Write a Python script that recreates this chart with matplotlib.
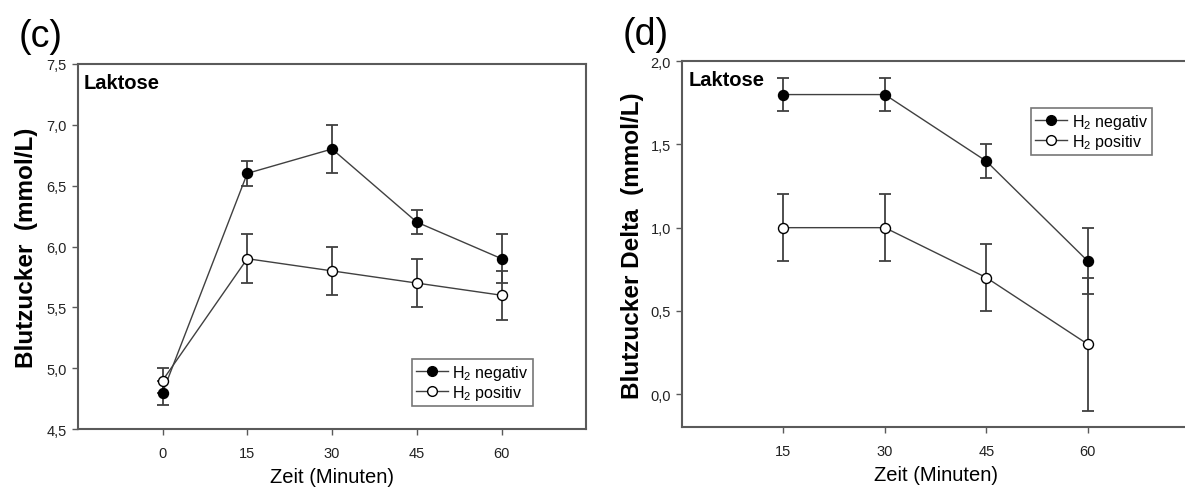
import matplotlib
matplotlib.use('Agg')
import matplotlib.pyplot as plt
from matplotlib.lines import Line2D

plt.rcParams['font.family'] = ['Liberation Sans', 'DejaVu Sans']
plt.rcParams['mathtext.fontset'] = 'custom'
plt.rcParams['mathtext.rm'] = 'Liberation Sans'

# DATA ---------------------------------------------------------------------------------------
# panel (c): blood sugar after lactose
time_c = [0, 15, 30, 45, 60]
neg_c = [4.8, 6.6, 6.8, 6.2, 5.9]
neg_c_err = [0.1, 0.1, 0.2, 0.1, 0.2]
pos_c = [4.9, 5.9, 5.8, 5.7, 5.6]
pos_c_err = [0.1, 0.2, 0.2, 0.2, 0.2]
yticks_c = [4.5, 5.0, 5.5, 6.0, 6.5, 7.0, 7.5]

# panel (d): blood sugar delta
time_d = [15, 30, 45, 60]
neg_d = [1.8, 1.8, 1.4, 0.8]
neg_d_err = [0.1, 0.1, 0.1, 0.2]
pos_d = [1.0, 1.0, 0.7, 0.3]
pos_d_err = [0.2, 0.2, 0.2, 0.4]
yticks_d = [0.0, 0.5, 1.0, 1.5, 2.0]

LABELS = ['H$_\\mathregular{2}$ negativ', 'H$_\\mathregular{2}$ positiv']
LINE_COLOR = '#404040'
SPINE_COLOR = '#5a5a5a'
TEXT_COLOR = '#222222'

fig = plt.figure(figsize=(11.85, 4.89), dpi=100)


def draw_series(ax, x, y, err, face):
    ax.errorbar(x, y, yerr=err, fmt='none', ecolor=LINE_COLOR, elinewidth=1.3,
                capsize=4.5, capthick=1.3, zorder=2)
    ax.plot(x, y, '-', color=LINE_COLOR, lw=1.0, marker='o', markersize=7.2,
            markerfacecolor=face, markeredgecolor='black', markeredgewidth=1.0, zorder=3)


def style_axes(ax, yticks):
    for side in ['top', 'bottom', 'left', 'right']:
        ax.spines[side].set_color(SPINE_COLOR)
        ax.spines[side].set_linewidth(1.5)
    ax.set_yticks(yticks)
    ax.set_yticklabels([('%.1f' % v).replace('.', ',') for v in yticks])
    ax.tick_params(axis='both', direction='out', length=4, width=1.0, color=SPINE_COLOR,
                   labelsize=10.5, labelcolor=TEXT_COLOR, pad=4)
    ax.tick_params(axis='x', pad=8)
    ax.text(0.012, 0.975, 'Laktose', transform=ax.transAxes, ha='left', va='top',
            fontsize=14.5, fontweight='bold', color='black')


def add_legend(ax, x_px, y_px):
    handles = [Line2D([0], [0], color=LINE_COLOR, lw=1.0, marker='o', markersize=7,
                      markerfacecolor=f, markeredgecolor='black') for f in ['black', 'white']]
    leg = ax.legend(handles, LABELS, loc='upper left',
                    bbox_to_anchor=(x_px / 1185, 1 - y_px / 489), bbox_transform=fig.transFigure,
                    borderaxespad=0, fontsize=11.5, fancybox=False, framealpha=1,
                    edgecolor='#777777', handlelength=2.0, handletextpad=0.3,
                    labelspacing=0.05, borderpad=0.25)
    leg.get_frame().set_linewidth(1.2)


# panel (c)
ax1 = fig.add_axes([0.0656, 0.120, 0.4292, 0.7477])
draw_series(ax1, time_c, neg_c, neg_c_err, 'black')
draw_series(ax1, time_c, pos_c, pos_c_err, 'white')
ax1.set_xlim(-15, 75)
ax1.set_ylim(4.5, 7.5)
ax1.set_xticks(time_c)
style_axes(ax1, yticks_c)
ax1.set_xlabel('Zeit (Minuten)', fontsize=14.5, color='black', labelpad=5)
ax1.set_ylabel('Blutzucker  (mmol/L)', fontsize=17.5, fontweight='bold', color='black', labelpad=6)
add_legend(ax1, 411.7, 360)

# panel (d)
ax2 = fig.add_axes([0.5756, 0.1241, 0.4278, 0.7485])
draw_series(ax2, time_d, neg_d, neg_d_err, 'black')
draw_series(ax2, time_d, pos_d, pos_d_err, 'white')
ax2.set_xlim(0, 75)
ax2.set_ylim(-0.2, 2.0)
ax2.set_xticks(time_d)
style_axes(ax2, yticks_d)
ax2.set_xlabel('Zeit (Minuten)', fontsize=14.5, color='black', labelpad=5)
ax2.set_ylabel('Blutzucker Delta  (mmol/L)', fontsize=17.5, fontweight='bold', color='black', labelpad=5)
add_legend(ax2, 1031, 109)

# panel letters
fig.text(19 / 1185, 1 - 47 / 489, '(c)', fontsize=27, ha='left', va='baseline')
fig.text(623 / 1185, 1 - 45 / 489, '(d)', fontsize=27, ha='left', va='baseline')

fig.savefig('out.png', dpi=100)
